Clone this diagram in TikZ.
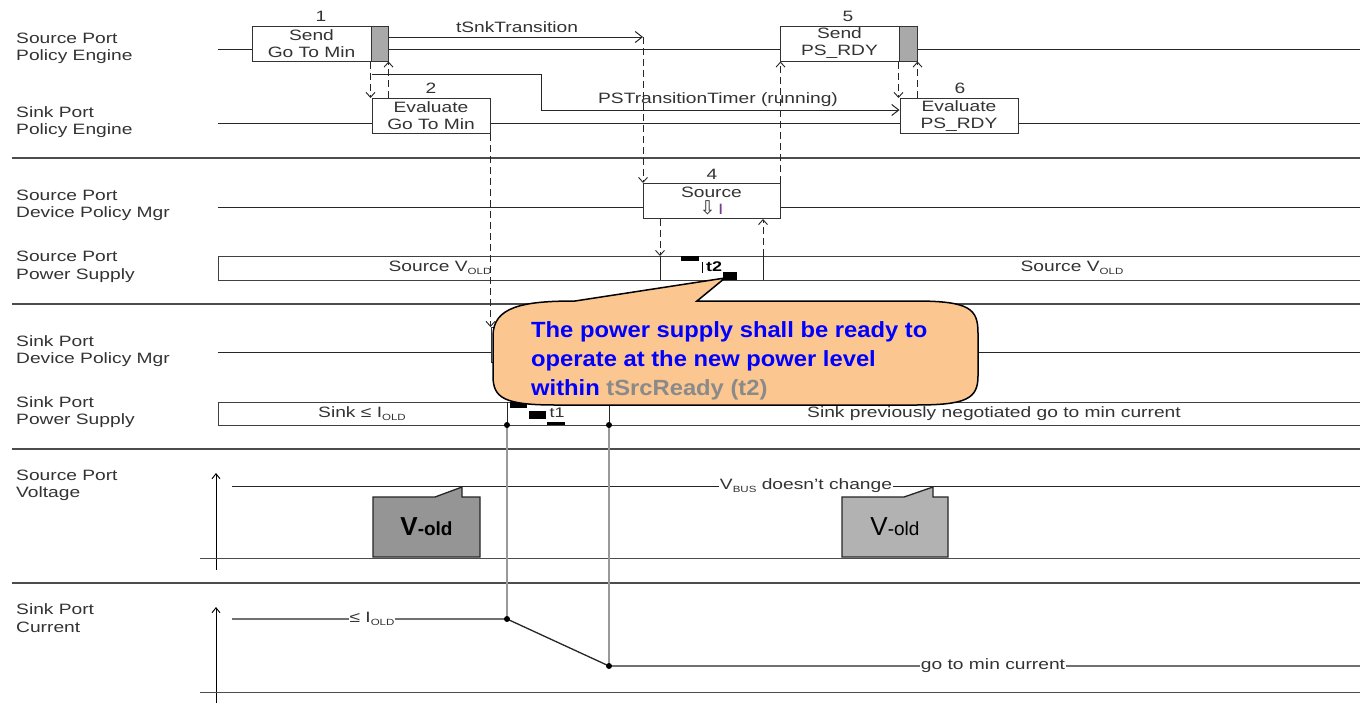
\documentclass[tikz,border=0pt]{standalone}
\usepackage{fontspec}
\setmainfont{Liberation Sans}
\newfontfamily\lbl[FakeStretch=1.28]{Liberation Sans}
\newfontfamily\calfont[FakeStretch=1.08]{Liberation Sans}
\newfontfamily\dvs{DejaVu Sans}
\usetikzlibrary{arrows.meta,calc}
\definecolor{txt}{HTML}{333333}
\definecolor{peach}{HTML}{FBC690}
\definecolor{bluetxt}{HTML}{0000FF}
\definecolor{graytxt}{HTML}{8A8A8A}
\definecolor{darkbox}{HTML}{959595}
\definecolor{lightbox}{HTML}{B2B2B2}
\definecolor{barfill}{HTML}{A9A9A9}
\definecolor{violetI}{HTML}{7A3D8C}
\newcommand\lowtxt[1]{\raisebox{-0.35ex}{\fontsize{9}{9}\selectfont #1}}
\begin{document}
\begin{tikzpicture}[x=1pt,y=-1pt,
  lab/.style={font=\lbl\fontsize{15}{17.5}\selectfont, text=txt, align=left, anchor=west, inner sep=0},
  txtnode/.style={font=\lbl\fontsize{15}{17}\selectfont, text=txt, inner sep=1},
  num/.style={font=\lbl\fontsize{15}{17}\selectfont, text=txt, inner sep=0},
  sig/.style={line width=1pt, draw=black!85},
  sep/.style={line width=2.2pt, draw=black!70},
  evbox/.style={draw=black!80, line width=1pt, fill=white, minimum width=#1, minimum height=35, inner sep=0, align=center, font=\lbl\fontsize{15}{17}\selectfont, text=txt},
  gbar/.style={draw=black!80, line width=1pt, fill=barfill, minimum width=#1, minimum height=35, inner sep=0},
  supbar/.style={draw=black!75, line width=1pt, fill=white, minimum width=1150, minimum height=#1, inner sep=0, anchor=north west},
  dsh/.style={line width=0.9pt, draw=black!85, dash pattern=on 7pt off 4pt, -{Straight Barb[length=5pt,width=9pt]}},
  tarrow/.style={line width=1pt, draw=black!85, -{Straight Barb[length=7pt,width=11pt]}},
  blk/.style={fill=black},
  dot/.style={fill=black},
  vold/.style={draw=black!85, line width=1.3pt},
  glin/.style={draw=black!40, line width=2.4pt}
]
\useasboundingbox (0,0) rectangle (1360,713);
\fill[white] (0,0) rectangle (1360,713);

% ---- left labels
\node[lab] (lab1) at (16,48.5) {Source Port\\Policy Engine};
\node[lab] (lab2) at (16,122) {Sink Port\\Policy Engine};
\node[lab] (lab3) at (16,205.5) {Source Port\\Device Policy Mgr};
\node[lab] (lab4) at (16,267) {Source Port\\Power Supply};
\node[lab] (lab5) at (16,351) {Sink Port\\Device Policy Mgr};
\node[lab] (lab6) at (16,412) {Sink Port\\Power Supply};
\node[lab] (lab7) at (16,485.5) {Source Port\\Voltage};
\node[lab] (lab8) at (16,618) {Sink Port\\Current};

% ---- separators
\draw[sep] (12,158) -- (1360,158);
\draw[sep] (12,304) -- (1360,304);
\draw[sep] (12,449) -- (1360,449);
\draw[sep] (12,583) -- (1360,583);

% ---- signal lines
\draw[sig] (218,49) -- (1360,49);
\draw[sig] (218,123) -- (1360,123);
\draw[sig] (218,207) -- (1360,207);
\draw[sig] (218,352) -- (1360,352);

% ---- supply bars
\node[supbar=24] (srcps) at (218,256) {};
\node[supbar=23] (snkps) at (218,402) {};
\node[txtnode] (sv1) at (440,268) {Source V\lowtxt{OLD}};
\node[txtnode] (sv2) at (1072,268) {Source V\lowtxt{OLD}};
\node[txtnode] (si1) at (362,413.5) {Sink ≤ I\lowtxt{OLD}};
\node[txtnode] (si2) at (994,414) {Sink previously negotiated go to min current};

% ---- event boxes
\node[evbox=119] (b1) at (311.5,43.5) {Send\\Go To Min};
\node[gbar=17] (g1) at (379.5,43.5) {};
\node[evbox=118] (b2) at (431,116) {Evaluate\\Go To Min};
\node[evbox=119] (b3) at (550.5,345) {};
\node[evbox=137] (b4) at (711.5,201) {Source\\{\dvs\fontsize{19}{15}\selectfont ⇩}\,{\color{violetI}I}};
\node[evbox=119] (b5) at (839.5,43.5) {Send\\PS\_RDY};
\node[gbar=18] (g5) at (908,43.5) {};
\node[evbox=118] (b6) at (959,116) {Evaluate\\PS\_RDY};

\node[num] (n1) at (321,16) {1};
\node[num] (n2) at (431,88) {2};
\node[num] (n4) at (712,174) {4};
\node[num] (n5) at (848,16) {5};
\node[num] (n6) at (960,88) {6};

% ---- timers
\coordinate (tsn) at (643,37);
\draw[tarrow] (g1.east |- tsn) -- (tsn);
\node[txtnode] (tsnl) at (517,27) {tSnkTransition};
\coordinate (ps0) at (372,74);
\coordinate (ps1) at (541,74);
\coordinate (ps2) at (541,110);
\draw[tarrow] (ps0) -- (ps1) -- (ps2) -- (b6.west |- ps2);
\node[txtnode] (psl) at (718,100) {PSTransitionTimer (running)};

% ---- dashed messages
\draw[dsh] (g1.south west) -- (g1.south west |- b2.north);
\draw[dsh] (b2.north -| g1.east) -- (g1.south east);
\draw[dsh] (tsn) -- (tsn |- b4.north);
\draw[dsh] (b2.south east) -- (b2.south east |- b3.north);
\coordinate (t2a) at (660,256);
\coordinate (t2b) at (763,256);
\draw[dsh] (b4.south -| t2a) -- (t2a);
\draw[dsh] (t2b) -- (b4.south -| t2b);
\draw[dsh] (b4.north east) -- (b4.north east |- b5.south);
\draw[dsh] (g5.south west) -- (g5.south west |- b6.north);
\draw[dsh] (b6.north -| g5.east) -- (g5.south east);

% ---- t2 interval
\draw[sig] (t2a) -- (660,280);
\draw[sig] (t2b) -- (763,280);
\fill[blk] (681,256) rectangle (699,261);
\draw[line width=1pt] (702,262) -- (702,273);
\node[font=\lbl\bfseries\fontsize{14}{14}\selectfont, inner sep=0] (t2l) at (714,267) {t2};
\fill[blk] (723,272) rectangle (737,280);

% ---- t1 interval
\coordinate (t1a) at (507,425);
\coordinate (t1b) at (609,425);
\draw[sig] (507,402) -- (t1a);
\draw[sig] (609,402) -- (t1b);
\fill[blk] (510,402) rectangle (527,408);
\fill[blk] (529,411) rectangle (546,419);
\node[font=\lbl\fontsize{14}{14}\selectfont, inner sep=0, text=txt] (t1l) at (557,413) {t1};
\fill[blk] (547,422) rectangle (565,425);

% ---- voltage plot
\draw[line width=0.9pt, -{Straight Barb[length=5pt,width=8pt]}] (216,570) -- (216,473);
\draw[line width=1pt, draw=black!70] (200,558) -- (1360,558);
\coordinate (v0) at (232,486);
\coordinate (v1) at (1360,486);
\draw[sig] (v0) -- (v1);
\node[txtnode, fill=white] (vbus) at (806,486) {V\lowtxt{BUS} doesn’t change};

% ---- current plot
\draw[line width=0.9pt, -{Straight Barb[length=5pt,width=8pt]}] (216,703) -- (216,607);
\draw[line width=1pt, draw=black!70] (200,692) -- (1360,692);
\coordinate (i0) at (232,619);
\coordinate (i1) at (507,619);
\coordinate (i2) at (609,666);
\coordinate (i3) at (1360,666);
\draw[glin] (t1a) -- (i1);
\draw[glin] (t1b) -- (i2);
\draw[sig, line width=1.3pt] (i0) -- (i1) -- (i2) -- (i3);
\node[txtnode, fill=white] (iold) at (372,619) {≤ I\lowtxt{OLD}};
\node[txtnode, fill=white] (imin) at (993,666) {go to min current};
\fill[dot] (t1a) circle (3);
\fill[dot] (t1b) circle (3);
\fill[dot] (i1) circle (3);
\fill[dot] (i2) circle (3);

% ---- callout
\draw[line width=1.5pt, fill=peach] (493,336) .. controls (493,307) and (522,301) .. (575,301) -- (725,278) -- (697,301) -- (915,301) .. controls (970,301) and (978,309) .. (978,333) -- (978,376) .. controls (978,399) and (966,405) .. (915,405) -- (556,405) .. controls (504,405) and (493,398) .. (493,376) -- cycle;
\node[anchor=north west, align=left, inner sep=0, text=bluetxt, font=\calfont\bfseries\fontsize{22}{29}\selectfont] (ctext) at (531,321) {The power supply shall be ready to\\operate at the new power level\\within {\color{graytxt}tSrcReady (t2)}};

% ---- V-old callouts
\draw[vold, fill=darkbox] (373,557) -- (373,497) -- (435,497) -- (462,487) -- (462,497) -- (480,497) -- (480,557) -- cycle;
\node[inner sep=0, font=\bfseries] (vo1) at (426.5,527) {\fontsize{26}{26}\selectfont V\fontsize{19}{19}\selectfont -old};
\draw[vold, fill=lightbox] (842,557) -- (842,497) -- (904,497) -- (933,487) -- (933,497) -- (948,497) -- (948,557) -- cycle;
\node[inner sep=0] (vo2) at (895,527) {\fontsize{26}{26}\selectfont V\fontsize{19}{19}\selectfont -old};
\end{tikzpicture}
\end{document}
